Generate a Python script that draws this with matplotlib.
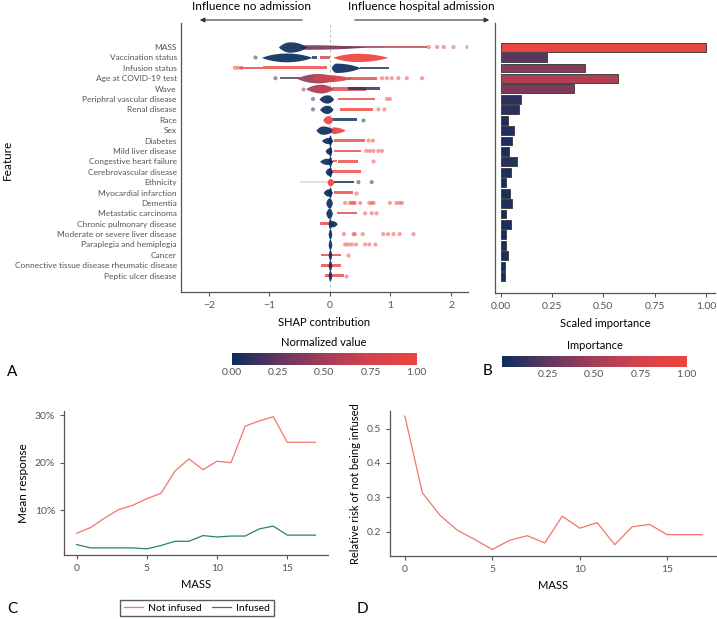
import numpy as np
import matplotlib
matplotlib.use('Agg')
import matplotlib.pyplot as plt
from matplotlib.colors import LinearSegmentedColormap, Normalize
from matplotlib.cm import ScalarMappable
from matplotlib.patches import FancyArrowPatch

plt.rcParams['font.family'] = ['Lato', 'DejaVu Sans']

# ---- data ----
features = ["MASS", "Vaccination status", "Infusion status", "Age at COVID-19 test", "Wave",
            "Periphral vascular disease", "Renal disease", "Race", "Sex", "Diabetes",
            "Mild liver disease", "Congestive heart failure", "Cerebrovascular disease",
            "Ethnicity", "Myocardial infarction", "Dementia", "Metastatic carcinoma",
            "Chronic pulmonary disease", "Moderate or severe liver disease",
            "Paraplegia and hemiplegia", "Cancer", "Connective tissue disease rheumatic disease",
            "Peptic ulcer disease"]

importance = [1.00, 0.224, 0.409, 0.57, 0.357, 0.097, 0.089, 0.036, 0.067, 0.054, 0.041,
              0.081, 0.049, 0.028, 0.044, 0.057, 0.028, 0.050, 0.026, 0.028, 0.037, 0.019, 0.021]

# dense SHAP clusters per feature: (x from, x to, x of widest, density, normalized value)
shap_blobs = [
    [(-0.5, 0.6, -0.38, 0.22, 0.33), (-0.85, -0.38, -0.66, 0.50, 0.02)],
    [(-1.13, -0.30, -0.72, 0.42, 0.0), (0.05, 0.95, 0.45, 0.40, 1.0)],
    [(0.02, 0.50, 0.10, 0.45, 0.0)],
    [(-0.55, 0.12, -0.2, 0.45, 0.45), (-0.3, 0.35, -0.08, 0.35, 0.8)],
    [(-0.40, 0.05, -0.15, 0.42, 0.5), (-0.25, 0.04, -0.1, 0.28, 0.7)],
    [(-0.18, 0.06, -0.05, 0.40, 0.0)],
    [(-0.17, 0.05, -0.05, 0.40, 0.0)],
    [(-0.12, 0.05, -0.03, 0.40, 1.0)],
    [(-0.23, 0.07, -0.12, 0.40, 0.0), (0.02, 0.25, 0.04, 0.32, 0.95)],
    [(-0.14, 0.05, -0.03, 0.30, 0.0), (-0.03, 0.03, 0.0, 0.5, 0.0)],
    [(-0.08, 0.03, -0.02, 0.30, 0.0), (-0.03, 0.03, 0.0, 0.5, 0.0)],
    [(-0.17, 0.05, -0.05, 0.30, 0.0), (-0.03, 0.03, 0.0, 0.5, 0.0)],
    [(-0.08, 0.04, -0.02, 0.35, 0.0), (-0.03, 0.03, 0.0, 0.5, 0.0)],
    [(-0.05, 0.07, 0.0, 0.35, 1.0)],
    [(-0.11, 0.04, -0.03, 0.35, 0.0), (-0.03, 0.03, 0.0, 0.5, 0.0)],
    [(-0.07, 0.04, -0.01, 0.50, 0.0)],
    [(-0.07, 0.04, -0.01, 0.50, 0.0)],
    [(-0.02, 0.12, 0.04, 0.30, 0.0), (-0.03, 0.03, 0.0, 0.5, 0.0)],
    [(-0.03, 0.03, 0.0, 0.50, 0.0)],
    [(-0.03, 0.03, 0.0, 0.50, 0.0)],
    [(-0.03, 0.03, 0.0, 0.50, 0.0)],
    [(-0.03, 0.03, 0.0, 0.50, 0.0)],
    [(-0.03, 0.03, 0.0, 0.50, 0.0)],
]

# runs of overlapping points: (x from, x to, normalized value, density); None = missing value
shap_strips = [
    [(0.2, 0.9, 0.45, 0.13), (0.9, 1.6, 0.65, 0.10)],
    [(-0.30, -0.22, 0.05, 0.13), (-0.16, 0.0, 0.7, 0.13)],
    [(-1.50, -1.10, 0.95, 0.10), (-1.10, -0.05, 1.0, 0.14), (0.50, 0.97, 0.05, 0.12)],
    [(-0.83, -0.50, 0.2, 0.12), (0.30, 0.78, 0.95, 0.14)],
    [(0.03, 0.60, 0.9, 0.2), (0.30, 0.83, 0.05, 0.14)],
    [(0.14, 0.75, 1.0, 0.13)],
    [(0.17, 0.71, 1.0, 0.13)],
    [(0.04, 0.44, 0.0, 0.13)],
    [],
    [(0.06, 0.58, 1.0, 0.13)],
    [(0.06, 0.52, 1.0, 0.13)],
    [(0.05, 0.12, 1.0, 0.10), (0.14, 0.47, 1.0, 0.13)],
    [(0.04, 0.52, 1.0, 0.13)],
    [(-0.50, -0.03, None, 0.13), (0.07, 0.40, 0.0, 0.13)],
    [(0.07, 0.38, 1.0, 0.13)],
    [],
    [(0.11, 0.44, 0.95, 0.10)],
    [(-0.17, 0.0, 0.9, 0.13)],
    [],
    [],
    [(-0.15, 0.18, 1.0, 0.13)],
    [(-0.14, 0.18, 1.0, 0.13)],
    [(-0.08, 0.23, 1.0, 0.13)],
]

# isolated points: (shap value, normalized value)
shap_dots = [
    [(1.63, 0.85), (1.77, 0.85), (1.88, 0.85), (2.04, 0.85), (2.27, 0.85)],
    [(-1.24, 0.1)],
    [(-1.57, 1.0), (-1.52, 1.0), (-1.46, 1.0)],
    [(-0.90, 0.05), (0.86, 0.95), (0.94, 0.95), (1.02, 0.95), (1.13, 0.95), (1.27, 0.95), (1.52, 0.95)],
    [(-0.45, 0.4)],
    [(-0.28, 0.05), (0.94, 1.0), (0.99, 1.0)],
    [(-0.28, 0.05), (0.80, 1.0), (0.90, 1.0)],
    [(0.55, 0.0)],
    [],
    [(0.64, 1.0), (0.71, 1.0)],
    [(0.60, 1.0), (0.66, 1.0), (0.72, 1.0), (0.80, 1.0), (0.86, 1.0)],
    [(0.71, 1.0)],
    [],
    [(0.47, 0.0), (0.69, 0.0)],
    [(0.43, 1.0)],
    [(0.25, 1.0), (0.33, 1.0), (0.36, 1.0), (0.39, 1.0), (0.41, 1.0), (0.50, 1.0), (0.65, 1.0),
     (0.69, 1.0), (0.72, 1.0), (0.99, 1.0), (1.10, 1.0), (1.15, 1.0), (1.19, 1.0)],
    [(0.58, 1.0), (0.69, 1.0), (0.77, 1.0)],
    [],
    [(0.23, 1.0), (0.39, 1.0), (0.41, 1.0), (0.54, 1.0), (0.88, 1.0), (0.96, 1.0), (1.05, 1.0),
     (1.15, 1.0), (1.38, 1.0)],
    [(0.25, 1.0), (0.30, 1.0), (0.36, 1.0), (0.43, 1.0), (0.58, 1.0), (0.65, 1.0), (0.75, 1.0)],
    [(0.30, 1.0)],
    [],
    [(0.26, 1.0)],
]

mass = list(range(18))
not_infused = [5.1, 6.3, 8.3, 10.1, 11.0, 12.4, 13.5, 18.2, 20.8, 18.5, 20.3, 20.0, 27.7, 28.8, 29.7, 24.3, 24.3, 24.3]
infused = [2.7, 2.0, 2.0, 2.0, 2.0, 1.8, 2.5, 3.4, 3.4, 4.6, 4.3, 4.5, 4.5, 6.0, 6.6, 4.7, 4.7, 4.7]
rel_risk = [0.536, 0.313, 0.248, 0.204, 0.177, 0.148, 0.175, 0.188, 0.167, 0.245, 0.210, 0.226,
            0.162, 0.214, 0.221, 0.191, 0.191, 0.191]

# ---- figure ----
W, H = 717, 619
fig = plt.figure(figsize=(W / 100, H / 100), dpi=100)
cmap = LinearSegmentedColormap.from_list('nr', ['#0b2d5e', '#62365f', '#a33d58', '#d4424b', '#ec4440'])
gray = '#555555'


def axes_px(l, t, r, b):
    return fig.add_axes([l / W, 1 - b / H, (r - l) / W, (b - t) / H])


def style(ax):
    ax.spines['top'].set_visible(False)
    ax.spines['right'].set_visible(False)
    for s in ['left', 'bottom']:
        ax.spines[s].set_color(gray)
        ax.spines[s].set_linewidth(0.9)
    ax.tick_params(color=gray, labelcolor=gray, length=3, width=0.8, labelsize=7.5)


# A: SHAP beeswarm
ax = axes_px(181, 23, 468, 292)
style(ax)
ax.axvline(0, color='#b0b0b0', lw=0.6, ls=(0, (3, 3)), zorder=0)
for i in range(len(features)):
    for x0, x1, c, t in shap_strips[i]:
        col = '#d9d9d9' if c is None else cmap(c)
        ax.fill_between([x0, x1], i - t, i + t, color=col, lw=0, alpha=0.8, zorder=2)
    for x0, x1, xp, h, c in shap_blobs[i]:
        xs = np.linspace(x0, x1, 100)
        u = np.where(xs < xp, (xs - x0) / (xp - x0 + 1e-9), (x1 - xs) / (x1 - xp + 1e-9))
        u = np.clip(u, 0, 1)
        prof = (1 - (1 - u) ** 2) ** 0.9
        ax.fill_between(xs, i - h * prof, i + h * prof, color=cmap(c), lw=0, alpha=0.92, zorder=3)
    if shap_dots[i]:
        dx = [d[0] for d in shap_dots[i]]
        dc = [cmap(d[1]) for d in shap_dots[i]]
        ax.scatter(dx, [i] * len(dx), s=9, c=dc, lw=0, alpha=0.5, zorder=4)
ax.set_xlim(-2.46, 2.28)
ax.set_ylim(23.57, -2.31)
ax.set_xticks([-2, -1, 0, 1, 2])
ax.set_xticklabels(['\u22122', '\u22121', '0', '1', '2'])
ax.set_yticks(range(len(features)))
ax.set_yticklabels(features, fontsize=6)
ax.tick_params(axis='y', length=0, pad=3)
ax.set_xlabel('SHAP contribution', fontsize=8, labelpad=5)

# B: scaled importance bars
axb = axes_px(495, 23, 715, 293)
style(axb)
axb.barh(range(len(features)), importance, height=0.85, color=[cmap(v) for v in importance],
         edgecolor='#444444', linewidth=0.7)
axb.set_xlim(-0.028, 1.044)
axb.set_ylim(23.57, -2.31)
axb.set_yticks([])
axb.set_xticks([0, 0.25, 0.5, 0.75, 1.0])
axb.set_xticklabels(['0.00', '0.25', '0.50', '0.75', '1.00'])
axb.set_xlabel('Scaled importance', fontsize=8, labelpad=5)

# colourbars
cax = axes_px(231.7, 353, 416.7, 365)
cb = fig.colorbar(ScalarMappable(norm=Normalize(0, 1), cmap=cmap), cax=cax, orientation='horizontal')
cb.outline.set_visible(False)
cb.set_ticks([0, 0.25, 0.5, 0.75, 1.0])
cb.set_ticklabels(['0.00', '0.25', '0.50', '0.75', '1.00'])
cax.tick_params(length=0, labelsize=7.5, labelcolor=gray, pad=2)
fig.text(324 / W, 1 - 342 / H, 'Normalized value', ha='center', va='center', fontsize=8)

cbx = axes_px(501.7, 356, 686.7, 367)
cb2 = fig.colorbar(ScalarMappable(norm=Normalize(0.0, 1.0), cmap=cmap), cax=cbx, orientation='horizontal')
cb2.outline.set_visible(False)
cb2.set_ticks([0.25, 0.5, 0.75, 1.0])
cb2.set_ticklabels(['0.25', '0.50', '0.75', '1.00'])
cbx.tick_params(length=0, labelsize=7.5, labelcolor=gray, pad=2)
fig.text(595 / W, 1 - 345 / H, 'Importance', ha='center', va='center', fontsize=8)

# direction arrows
fig.text(252 / W, 1 - 7 / H, 'Influence no admission', ha='center', va='center', fontsize=8.5)
fig.text(421 / W, 1 - 7 / H, 'Influence hospital admission', ha='center', va='center', fontsize=8.5)
for a, b in [(305, 197), (352, 492)]:
    fig.add_artist(FancyArrowPatch((a / W, 1 - 20 / H), (b / W, 1 - 20 / H), transform=fig.transFigure,
                                   arrowstyle='-|>', mutation_scale=7, color='#333333', lw=0.8))
fig.text(7 / W, 1 - 160 / H, 'Feature', rotation=90, ha='center', va='center', fontsize=8.5)

# C: mean response
axc = axes_px(64, 411, 328, 555)
style(axc)
l1, = axc.plot(mass, not_infused, color='#f4736b', lw=0.9, label='Not infused')
l2, = axc.plot(mass, infused, color='#2a8170', lw=0.9, label='Infused')
axc.set_xlim(-0.9, 17.9)
axc.set_ylim(0.5, 30.9)
axc.set_xticks([0, 5, 10, 15])
axc.set_yticks([10, 20, 30])
axc.set_yticklabels(['10%', '20%', '30%'])
axc.set_xlabel('MASS', fontsize=8, labelpad=4)
axc.set_ylabel('Mean response', fontsize=8.5, labelpad=4)
fig.legend(handles=[l1, l2], loc='center', bbox_to_anchor=(197 / W, 1 - 608 / H), ncol=2,
           fontsize=7.5, frameon=True, fancybox=False, edgecolor='#333333', handlelength=1.8,
           columnspacing=1.0, borderpad=0.35, handletextpad=0.5)

# D: relative risk
axd = axes_px(390, 411, 717, 556)
style(axd)
axd.plot(mass, rel_risk, color='#f4736b', lw=0.9)
axd.set_xlim(-0.85, 17.85)
axd.set_ylim(0.129, 0.551)
axd.set_xticks([0, 5, 10, 15])
axd.set_yticks([0.2, 0.3, 0.4, 0.5])
axd.set_yticklabels(['0.2', '0.3', '0.4', '0.5'])
axd.set_xlabel('MASS', fontsize=8, labelpad=4)
axd.set_ylabel('Relative risk of not being infused', fontsize=8, labelpad=4)

for lab, x, y in [('A', 7, 372), ('B', 483, 371), ('C', 7, 609), ('D', 357, 609)]:
    fig.text(x / W, 1 - y / H, lab, fontsize=11, ha='left', va='center')

fig.savefig('out.png', dpi=100)
